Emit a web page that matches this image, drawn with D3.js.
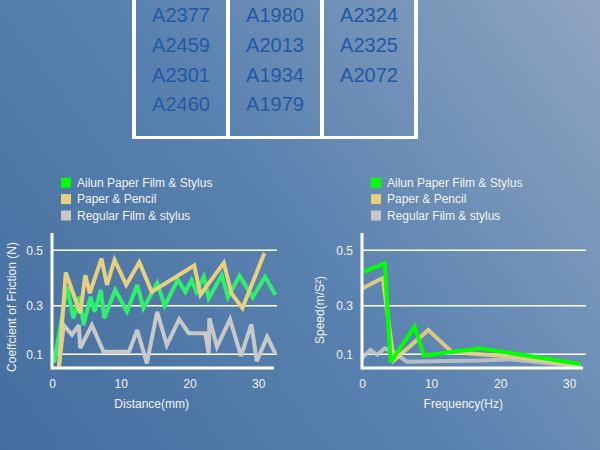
<!DOCTYPE html>
<html>
<head>
<meta charset="utf-8">
<script src="https://cdn.jsdelivr.net/npm/d3@7"></script>
<style>
  html, body { margin: 0; padding: 0; }
  svg { display: block; font-family: "Liberation Sans", Arial, sans-serif; }
</style>
</head>
<body>
<svg id="chart" width="600" height="450"></svg>
<script>
// ---------- DATA ----------
const tableCol1 = ["A2377", "A2459", "A2301", "A2460"];
const tableCol2 = ["A1980", "A2013", "A1934", "A1979"];
const tableCol3 = ["A2324", "A2325", "A2072"];

const seriesNames = ["Ailun Paper Film & Stylus", "Paper & Pencil", "Regular Film & stylus"];
const yTicks = [0.1, 0.3, 0.5];
const xTicks = [0, 10, 20, 30];

// Left chart: Coefficient of friction vs distance (mm)
const frictionAilunX = [0.3, 2.2, 3.1, 4.0, 4.6, 5.6, 6.2, 7.1, 7.6, 9.2, 10.9, 12.4, 13.3, 15.3, 16.4, 18.3, 19.4, 20.3, 21.0, 22.1, 22.8, 24.7, 25.6, 27.3, 29.2, 31.0, 32.5];
const frictionAilunY = [0.065, 0.369, 0.248, 0.332, 0.22, 0.332, 0.275, 0.357, 0.248, 0.357, 0.275, 0.375, 0.29, 0.381, 0.3, 0.394, 0.35, 0.393, 0.35, 0.405, 0.327, 0.41, 0.33, 0.408, 0.33, 0.405, 0.339];
const frictionPaperX = [1.0, 2.0, 4.1, 4.85, 5.5, 7.2, 8.0, 9.1, 10.8, 12.7, 14.5, 20.7, 21.6, 25.0, 26.1, 27.7, 30.9];
const frictionPaperY = [0.045, 0.42, 0.27, 0.41, 0.345, 0.47, 0.375, 0.465, 0.375, 0.457, 0.35, 0.445, 0.34, 0.455, 0.345, 0.29, 0.49];
const frictionRegularX = [1.0, 1.7, 2.9, 3.9, 4.1, 5.8, 7.5, 11.2, 12.4, 13.8, 15.3, 16.7, 18.5, 19.9, 22.3, 22.8, 22.9, 24.0, 25.9, 27.5, 29.0, 29.8, 31.3, 32.5];
const frictionRegularY = [0.045, 0.22, 0.18, 0.22, 0.125, 0.22, 0.11, 0.11, 0.2, 0.063, 0.275, 0.138, 0.244, 0.187, 0.187, 0.104, 0.248, 0.131, 0.244, 0.093, 0.223, 0.072, 0.172, 0.104];

// Right chart: Speed vs frequency (Hz)
const speedAilunX = [0, 3.3, 4.15, 7.6, 9.0, 17.1, 31.6];
const speedAilunY = [0.42, 0.453, 0.068, 0.214, 0.095, 0.125, 0.06];
const speedPaperX = [0, 3.0, 4.6, 9.6, 13.0, 17.0, 22.0, 31.6];
const speedPaperY = [0.362, 0.40, 0.075, 0.2, 0.11, 0.1, 0.09, 0.055];
const speedRegularX = [0, 1.2, 2.2, 3.3, 4.5, 6.5, 17.1, 21.5, 31.6];
const speedRegularY = [0.083, 0.118, 0.098, 0.125, 0.11, 0.07, 0.075, 0.08, 0.05];

// ---------- STYLE ----------
const colors = ["#00ff00", "#e6d07e", "#c8c8c8"];
const leftLineColors = ["#2ef06a", "#e6d07e", "#c8c8c8"];
const textColor = "#f2f2f2";
const tableTextColor = "#2459a6";

const svg = d3.select("#chart");

// Background gradient
const defs = svg.append("defs");
const grad = defs.append("linearGradient").attr("id", "bg")
  .attr("gradientUnits", "userSpaceOnUse")
  .attr("x1", 0).attr("y1", 450).attr("x2", 600).attr("y2", 0);
grad.append("stop").attr("offset", "0%").attr("stop-color", "#446e9e");
grad.append("stop").attr("offset", "50%").attr("stop-color", "#5a82b0");
grad.append("stop").attr("offset", "100%").attr("stop-color", "#8ea5c0");
svg.append("rect").attr("width", 600).attr("height", 450).attr("fill", "url(#bg)");

// ---------- TABLE ----------
const tableCols = [tableCol1, tableCol2, tableCol3];
const colX = d3.scaleBand().domain([0, 1, 2]).range([134, 416]);
const rowY = d3.scaleLinear().domain([0, 3]).range([15, 104.3]);
const tableG = svg.append("g");
[0, 1, 2, 3].forEach(i => {
  const x = i < 3 ? colX(i) : colX(2) + colX.bandwidth();
  tableG.append("line").attr("x1", x).attr("x2", x).attr("y1", 0).attr("y2", 139)
    .attr("stroke", "#ffffff").attr("stroke-width", 4);
});
tableG.append("line").attr("x1", 132).attr("x2", 418).attr("y1", 137.5).attr("y2", 137.5)
  .attr("stroke", "#ffffff").attr("stroke-width", 3);
tableCols.forEach((col, ci) => {
  tableG.selectAll(null).data(col).enter().append("text")
    .attr("x", colX(ci) + colX.bandwidth() / 2)
    .attr("y", (d, ri) => rowY(ri) + 7)
    .attr("text-anchor", "middle")
    .attr("font-size", 20)
    .attr("fill", tableTextColor)
    .text(d => d);
});

// ---------- CHART BUILDER ----------
function drawChart(opts) {
  const g = svg.append("g");
  const x = d3.scaleLinear().domain([0, opts.xMax]).range([opts.x0, opts.x1]);
  const y = d3.scaleLinear().domain([0.044, 0.1, 0.3, 0.5, 0.562]).range([368, 354.3, 305.7, 250.3, 233]);

  // legend
  const lg = g.append("g").attr("transform", `translate(${opts.legendX},0)`);
  seriesNames.forEach((name, i) => {
    const cy = 182.7 + i * 16.4;
    lg.append("rect").attr("x", 0).attr("y", cy - 5).attr("width", 10).attr("height", 10).attr("fill", colors[i]);
    lg.append("text").attr("x", 16).attr("y", cy + 4.2).attr("font-size", 12).attr("fill", textColor).text(name);
  });

  // gridlines
  g.selectAll(null).data(yTicks).enter().append("line")
    .attr("x1", opts.x0).attr("x2", opts.x1 + 3)
    .attr("y1", d => y(d)).attr("y2", d => y(d))
    .attr("stroke", "#ffffff").attr("stroke-width", 1.5);

  // y axis labels
  const yAxis = d3.axisLeft(y).tickValues(yTicks).tickSize(0).tickPadding(9).tickFormat(d3.format(".1f"));
  const ya = g.append("g").attr("transform", `translate(${opts.x0},0)`).call(yAxis);
  ya.select(".domain").remove();
  ya.selectAll("text").attr("font-size", 12).attr("fill", textColor).attr("font-family", "Liberation Sans, Arial, sans-serif");

  // x axis labels
  const xAxis = d3.axisBottom(x).tickValues(xTicks).tickSize(0).tickPadding(11);
  const xa = g.append("g").attr("transform", "translate(0,368)").call(xAxis);
  xa.select(".domain").remove();
  xa.selectAll("text").attr("font-size", 12).attr("fill", textColor).attr("font-family", "Liberation Sans, Arial, sans-serif");

  // series lines
  const line = d3.line().x(d => x(d[0])).y(d => y(d[1]));
  opts.series.forEach(s => {
    const pts = s.xs.map((v, i) => [v, s.ys[i]]);
    g.append("path").datum(pts).attr("d", line)
      .attr("fill", "none").attr("stroke", s.color).attr("stroke-width", 4)
      .attr("stroke-opacity", s.opacity || 1)
      .attr("stroke-linejoin", "miter").attr("stroke-miterlimit", 3);
  });

  // axis lines
  g.append("line").attr("x1", opts.x0).attr("x2", opts.x0).attr("y1", 233).attr("y2", 369.5)
    .attr("stroke", "#ffffff").attr("stroke-width", 3);
  g.append("line").attr("x1", opts.x0).attr("x2", opts.x1).attr("y1", 368).attr("y2", 368)
    .attr("stroke", "#ffffff").attr("stroke-width", 3);

  // titles
  g.append("text").attr("x", opts.xTitleX).attr("y", 408).attr("text-anchor", "middle")
    .attr("font-size", 12).attr("fill", textColor).text(opts.xTitle);
  g.append("text").attr("transform", `translate(${opts.yTitleX},${opts.yTitleY}) rotate(-90)`)
    .attr("text-anchor", "middle").attr("font-size", 12).attr("fill", textColor).text(opts.yTitle);
}

drawChart({
  x0: 52, x1: 274, xMax: 32.3, legendX: 61,
  xTitle: "Distance(mm)", xTitleX: 151.7,
  yTitle: "Coeffcient of Friction (N)", yTitleX: 16, yTitleY: 307,
  series: [
    { xs: frictionAilunX, ys: frictionAilunY, color: leftLineColors[0] },
    { xs: frictionRegularX, ys: frictionRegularY, color: leftLineColors[2] },
    { xs: frictionPaperX, ys: frictionPaperY, color: leftLineColors[1] }
  ]
});

drawChart({
  x0: 362, x1: 583, xMax: 32, legendX: 371,
  xTitle: "Frequency(Hz)", xTitleX: 463.3,
  yTitle: "Speed(m/S²)", yTitleX: 324, yTitleY: 310,
  series: [
    { xs: speedRegularX, ys: speedRegularY, color: colors[2], opacity: 0.85 },
    { xs: speedPaperX, ys: speedPaperY, color: colors[1], opacity: 0.9 },
    { xs: speedAilunX, ys: speedAilunY, color: colors[0] }
  ]
});
</script>
</body>
</html>
